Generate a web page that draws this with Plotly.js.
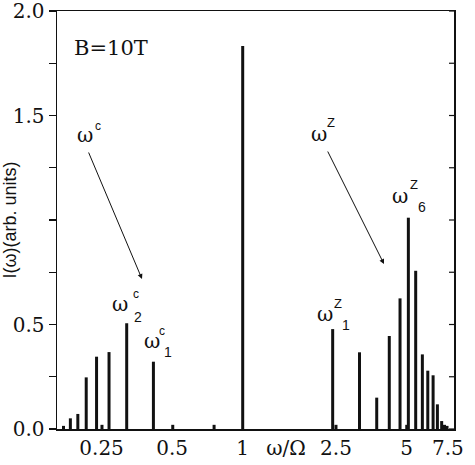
<!DOCTYPE html>
<html>
<head>
<meta charset="utf-8">
<script src="https://cdn.plot.ly/plotly-3.0.1.min.js"></script>
<style>html,body{margin:0;padding:0;background:#fff;}#plot{width:475px;height:465px;}</style>
</head>
<body>
<div id="plot"></div>
<script>
// Spectral lines (omega / Omega, intensity in arb. units)
var omegaC = [0.172, 0.184, 0.198, 0.215, 0.238, 0.251, 0.269, 0.320, 0.416, 0.503, 0.755, 1.0];
var intensityC = [0.015, 0.051, 0.072, 0.247, 0.346, 0.020, 0.368, 0.506, 0.322, 0.020, 0.020, 1.833];
var omegaZ = [2.42, 2.50, 3.15, 3.73, 4.22, 4.69, 5.01, 5.09, 5.47, 5.84, 6.16, 6.49, 6.77, 7.06, 7.26, 7.44];
var intensityZ = [0.478, 0.020, 0.367, 0.150, 0.445, 0.625, 0.020, 1.011, 0.757, 0.357, 0.279, 0.257, 0.118, 0.038, 0.020, 0.015];

// x tick labels (the axis name sits on the tick-label row, between 1 and 2.5)
var xTickVals = [0.25, 0.5, 1, 1.53, 2.5, 5, 7.5];
var xTickText = ['0.25', '0.5', '1', 'ω/Ω', '2.5', '5', '7.5'];
var yTickVals = [0, 0.25, 0.5, 0.75, 1.0, 1.25, 1.5, 1.75, 2.0];
var yTickText = ['0.0', '', '0.5', '', '', '', '1.5', '', '2.0'];

(function () {
  function stems(xs, ys) {
    var x = [], y = [];
    for (var i = 0; i < xs.length; i++) { x.push(xs[i], xs[i], null); y.push(0, ys[i], null); }
    return {x: x, y: y};
  }
  var sc = stems(omegaC, intensityC);
  var sz = stems(omegaZ, intensityZ);
  var traces = [
    {x: sc.x, y: sc.y, type: 'scatter', mode: 'lines', line: {color: '#111', width: 3}, hoverinfo: 'skip', showlegend: false},
    {x: sz.x, y: sz.y, type: 'scatter', mode: 'lines', line: {color: '#111', width: 3}, hoverinfo: 'skip', showlegend: false}
  ];

  var pl = 57, pr = 454, pt = 11, pb = 429;
  function fx(x) { return (x - pl) / (pr - pl); }
  function fy(y) { return (pb - y) / (pb - pt); }
  var serifF = 'DejaVu Serif', sansF = 'Liberation Sans';
  function label(t, x, y, fam, size) {
    return {text: t, xref: 'paper', yref: 'paper', x: fx(x), y: fy(y), xanchor: 'center', yanchor: 'middle',
      showarrow: false, font: {family: fam, size: size, color: '#111'}};
  }
  function pointer(x0, y0, x1, y1) {
    return {text: '', xref: 'paper', yref: 'paper', x: fx(x1), y: fy(y1), ax: x0 - x1, ay: y0 - y1,
      showarrow: true, arrowhead: 2, arrowsize: 1, arrowwidth: 1, arrowcolor: '#111'};
  }
  var notes = [
    label('B=10T', 111, 48, serifF, 21),
    label('ω', 85, 135, serifF, 20), label('c', 98, 126, sansF, 12),
    pointer(88, 151, 142, 279),
    label('ω', 120, 304, serifF, 20), label('c', 136, 294, sansF, 12), label('2', 138, 317, sansF, 14),
    label('ω', 152, 341, serifF, 20), label('c', 162, 331, sansF, 12), label('1', 168, 352, sansF, 14),
    label('ω', 319, 134, serifF, 20), label('Z', 331, 122, sansF, 13),
    pointer(327, 150, 384, 264),
    label('ω', 400, 196, serifF, 20), label('Z', 414, 185, sansF, 13), label('6', 422, 207, sansF, 14),
    label('ω', 325, 314, serifF, 20), label('Z', 338, 303, sansF, 13), label('1', 346, 325, sansF, 14)
  ];
  var marks = yTickVals.map(function (v) {
    return {type: 'line', xref: 'paper', yref: 'y', x0: 1, x1: 1 - 5 / (pr - pl), y0: v, y1: v,
      line: {color: '#111', width: 1.2}};
  });
  var pad = '\u00a0\u00a0\u00a0\u00a0\u00a0\u00a0\u00a0\u00a0\u00a0\u00a0\u00a0\u00a0';
  var layout = {
    width: 475, height: 465,
    margin: {l: pl, r: 475 - pr, t: pt, b: 465 - pb},
    showlegend: false,
    xaxis: {type: 'log', range: [-0.7922, 0.9014], tickvals: xTickVals, ticktext: xTickText, ticks: '',
      showline: true, mirror: true, linecolor: '#111', linewidth: 1.5, showgrid: false, zeroline: false,
      ticklabeloverflow: 'allow',
      tickfont: {family: serifF, size: 20, color: '#111'}},
    yaxis: {range: [0, 2], tickvals: yTickVals, ticktext: yTickText, ticks: 'outside', ticklen: 7, tickwidth: 1.2, tickcolor: '#111',
      showline: true, mirror: true, linecolor: '#111', linewidth: 1.5, showgrid: false, zeroline: false,
      ticklabeloverflow: 'allow',
      tickfont: {family: serifF, size: 20, color: '#111'},
      title: {text: 'I(ω)(arb. units)' + pad, standoff: 0, font: {family: sansF, size: 18, color: '#111'}}},
    shapes: marks,
    annotations: notes
  };
  Plotly.newPlot('plot', traces, layout, {staticPlot: true, displayModeBar: false});
})();
</script>
</body>
</html>
